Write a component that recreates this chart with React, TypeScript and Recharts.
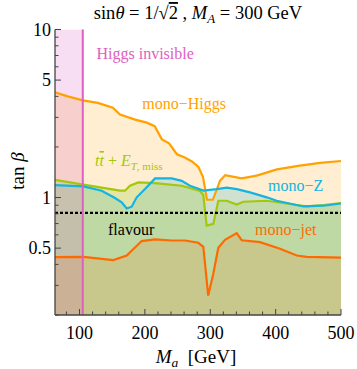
import React from 'react';
import { ComposedChart, Area, Line, XAxis, YAxis, ReferenceLine } from 'recharts';

// ---- data (M_a in GeV, tan beta) ----
const monoHiggsMa = [62.5, 82, 105, 128, 151, 162, 185, 203, 215, 226, 237, 249, 261, 272, 282, 289, 295, 304, 310, 315, 323, 348, 371, 402, 437, 468, 500];
const monoHiggsTanb = [4.23, 4.0, 3.79, 3.66, 3.42, 3.12, 2.91, 2.79, 2.66, 2.22, 2.1, 1.81, 1.73, 1.64, 1.52, 1.32, 0.97, 0.97, 1.12, 1.26, 1.36, 1.3, 1.35, 1.47, 1.55, 1.61, 1.65];

const ttbarMa = [62.5, 105.8, 161.9, 169.6, 177.2, 189.9, 215.5, 256.3, 284.3, 289.3, 294.5, 304.7, 312.3, 325.2, 340.5, 350.6, 386.4, 422, 447.5, 472.9, 500];
const ttbarTanb = [1.274, 1.194, 1.1, 1.098, 1.175, 1.23, 1.218, 1.175, 1.093, 1.035, 0.681, 0.697, 0.957, 0.957, 0.909, 0.944, 0.957, 0.915, 0.885, 0.903, 0.928];

const monoZMa = [62.5, 105.8, 133.9, 154.3, 164.5, 172.2, 179.8, 187.5, 200.2, 215.5, 241, 256.3, 269, 289.4, 309.9, 325.2, 340.5, 360.8, 386.4, 401.7, 442.4, 473, 500];
const monoZTanb = [1.186, 1.165, 1.098, 0.993, 0.937, 0.861, 0.882, 1.003, 1.123, 1.299, 1.299, 1.257, 1.175, 1.1, 1.123, 1.146, 1.123, 1.073, 1.003, 0.957, 0.885, 0.894, 0.922];

const monoJetMa = [62.5, 105.8, 151.7, 172.2, 195.1, 215.5, 241, 261.4, 281.7, 289.4, 296.9, 304.7, 312.3, 322.6, 340.5, 348.1, 376.1, 406.7, 432.3, 447.5, 500];
const monoJetTanb = [0.442, 0.443, 0.424, 0.452, 0.551, 0.563, 0.555, 0.555, 0.538, 0.509, 0.261, 0.353, 0.503, 0.56, 0.614, 0.557, 0.543, 0.496, 0.452, 0.443, 0.439];

const flavourTanb = 0.81;
const higgsInvMa = [62.5, 105];
const higgsInvTanb = [10, 10];

const xDomain = [62.5, 500];
const yDomain = [0.2, 10];
const xTicks = [80, 100, 120, 140, 160, 180, 200, 220, 240, 260, 280, 300, 320, 340, 360, 380, 400, 420, 440, 460, 480, 500];
const xTickLabels = [100, 200, 300, 400, 500];
const yTicks = [0.2, 0.3, 0.4, 0.5, 0.6, 0.7, 0.8, 0.9, 1, 2, 3, 4, 5, 6, 7, 8, 9, 10];
const yTickLabels = [0.5, 1, 5, 10];

// ---- styles ----
const FONT = '"Liberation Serif", "Times New Roman", serif';
const FRAME = '#444';
const C_MH = '#ffa200';
const C_TT = '#a3c70a';
const C_MZ = '#14b4e1';
const C_MJ = '#ff6a00';
const C_HI = '#e060c0';

const toXY = (xs: number[], ys: number[]) => xs.map((x, i) => ({ x, y: ys[i] }));
const monoHiggs = toXY(monoHiggsMa, monoHiggsTanb);
const ttbar = toXY(ttbarMa, ttbarTanb);
const monoZ = toXY(monoZMa, monoZTanb);
const monoJet = toXY(monoJetMa, monoJetTanb);
const higgsInv = toXY(higgsInvMa, higgsInvTanb);
const flavour = toXY(xDomain, [flavourTanb, flavourTanb]);

const near = (a: number, list: number[]) => list.some((v) => Math.abs(v - a) < 1e-9);
const txt = { fontFamily: FONT };

const BottomTick = (p: any) => {
  const { x, y, payload } = p;
  const major = near(payload.value, xTickLabels);
  return (
    <g>
      <line x1={x} x2={x} y1={y} y2={y - (major ? 6 : 3.5)} stroke={FRAME} strokeWidth={1} />
      {major && (
        <text x={x} y={y + 24} textAnchor="middle" fontSize={18} fontFamily={FONT} style={txt} fill="#000">
          {payload.value}
        </text>
      )}
    </g>
  );
};
const TopTick = (p: any) => {
  const { x, y, payload } = p;
  const major = near(payload.value, xTickLabels);
  return <line x1={x} x2={x} y1={y} y2={y + (major ? 6 : 3.5)} stroke={FRAME} strokeWidth={1} />;
};
const LeftTick = (p: any) => {
  const { x, y, payload } = p;
  const major = near(payload.value, yTickLabels);
  return (
    <g>
      <line x1={x} x2={x + (major ? 6 : 3.5)} y1={y} y2={y} stroke={FRAME} strokeWidth={1} />
      {major && (
        <text x={x - 4} y={y} dy="0.34em" textAnchor="end" fontSize={18} fontFamily={FONT} style={txt} fill="#000">
          {payload.value}
        </text>
      )}
    </g>
  );
};
const RightTick = (p: any) => {
  const { x, y, payload } = p;
  const major = near(payload.value, yTickLabels);
  return <line x1={x} x2={x - (major ? 6 : 3.5)} y1={y} y2={y} stroke={FRAME} strokeWidth={1} />;
};

export default function App() {
  return (
    <div style={{ position: 'absolute', left: 0, top: 0, width: 357, height: 369, background: '#fff' }}>
      <ComposedChart width={357} height={369} margin={{ top: 29.5, right: 16, bottom: 0, left: 0 }}>
        <XAxis
          xAxisId="b"
          dataKey="x"
          type="number"
          scale="linear"
          domain={xDomain}
          allowDataOverflow
          ticks={xTicks}
          interval={0}
          tickSize={0}
          tickMargin={0}
          tickLine={false}
          tick={<BottomTick />}
          axisLine={{ stroke: FRAME, strokeWidth: 1.3 }}
          height={54}
          orientation="bottom"
        />
        <XAxis
          xAxisId="t"
          dataKey="x"
          type="number"
          scale="linear"
          domain={xDomain}
          allowDataOverflow
          ticks={xTicks}
          interval={0}
          tickSize={0}
          tickMargin={0}
          tickLine={false}
          tick={<TopTick />}
          axisLine={{ stroke: FRAME, strokeWidth: 1.3 }}
          height={0}
          orientation="top"
        />
        <YAxis
          yAxisId="l"
          type="number"
          scale="log"
          domain={yDomain}
          allowDataOverflow
          ticks={yTicks}
          interval={0}
          tickSize={0}
          tickMargin={0}
          tickLine={false}
          tick={<LeftTick />}
          axisLine={{ stroke: FRAME, strokeWidth: 1.3 }}
          width={55}
          orientation="left"
        />
        <YAxis
          yAxisId="r"
          type="number"
          scale="log"
          domain={yDomain}
          allowDataOverflow
          ticks={yTicks}
          interval={0}
          tickSize={0}
          tickMargin={0}
          tickLine={false}
          tick={<RightTick />}
          axisLine={{ stroke: FRAME, strokeWidth: 1.3 }}
          width={0}
          orientation="right"
        />

        <Area xAxisId="b" yAxisId="l" data={monoHiggs} dataKey="y" type="linear" stroke="none" fill={C_MH} fillOpacity={0.18} isAnimationActive={false} />
        <Area xAxisId="b" yAxisId="l" data={monoZ} dataKey="y" type="linear" stroke="none" fill="#00a8d0" fillOpacity={0.18} isAnimationActive={false} />
        <Area xAxisId="b" yAxisId="l" data={ttbar} dataKey="y" type="linear" stroke="none" fill="#9acd32" fillOpacity={0.25} isAnimationActive={false} />
        <Area xAxisId="b" yAxisId="l" data={flavour} dataKey="y" type="linear" stroke="none" fill="#8cc060" fillOpacity={0.06} isAnimationActive={false} />
        <Area xAxisId="b" yAxisId="l" data={monoJet} dataKey="y" type="linear" stroke="none" fill="#ff6400" fillOpacity={0.15} isAnimationActive={false} />
        <Area xAxisId="b" yAxisId="l" data={higgsInv} dataKey="y" type="linear" stroke="none" fill="#d75abe" fillOpacity={0.2} isAnimationActive={false} />

        <Line xAxisId="b" yAxisId="l" data={monoHiggs} dataKey="y" type="linear" stroke={C_MH} strokeWidth={2.2} dot={false} isAnimationActive={false} />
        <Line xAxisId="b" yAxisId="l" data={ttbar} dataKey="y" type="linear" stroke={C_TT} strokeWidth={2.2} dot={false} isAnimationActive={false} />
        <Line xAxisId="b" yAxisId="l" data={monoZ} dataKey="y" type="linear" stroke={C_MZ} strokeWidth={2.2} dot={false} isAnimationActive={false} />
        <Line xAxisId="b" yAxisId="l" data={monoJet} dataKey="y" type="linear" stroke={C_MJ} strokeWidth={2.2} dot={false} isAnimationActive={false} />
        <Line xAxisId="b" yAxisId="l" data={flavour} dataKey="y" type="linear" stroke="#000" strokeWidth={2.4} strokeDasharray="3 2" dot={false} isAnimationActive={false} />
        <ReferenceLine xAxisId="b" yAxisId="l" x={higgsInvMa[1]} stroke={C_HI} strokeWidth={2} />
      </ComposedChart>

      <svg width={357} height={369} fontFamily={FONT} style={{ position: 'absolute', left: 0, top: 0, pointerEvents: 'none', fontFamily: FONT }}>
        <text x={198} y={19} textAnchor="middle" fontSize={18.5} fill="#000" style={{ whiteSpace: 'pre' }}>
          {'sin'}
          <tspan fontStyle="italic">θ</tspan>
          {' = 1/√'}
          <tspan style={{ textDecoration: 'overline' }}>2</tspan>
          {' , '}
          <tspan fontStyle="italic">M</tspan>
          <tspan fontStyle="italic" fontSize={13} dy={4}>A</tspan>
          <tspan dy={-4}>{' = 300 GeV'}</tspan>
        </text>
        <text x={196} y={363} textAnchor="middle" fontSize={19} fill="#000" style={{ whiteSpace: 'pre' }}>
          <tspan fontStyle="italic">M</tspan>
          <tspan fontStyle="italic" fontSize={13.5} dy={4}>a</tspan>
          <tspan dy={-4}>{'  [GeV]'}</tspan>
        </text>
        <text transform="translate(24,171) rotate(-90)" textAnchor="middle" fontSize={19} fill="#000" style={{ whiteSpace: 'pre' }}>
          {'tan '}
          <tspan fontStyle="italic">β</tspan>
        </text>

        <text x={96.5} y={58.5} fontSize={16} fill={C_HI}>Higgs invisible</text>
        <text x={142.3} y={108.5} fontSize={16} fill={C_MH}>mono−Higgs</text>
        <text x={95} y={166} fontSize={16} fill={C_TT} style={{ whiteSpace: 'pre' }}>
          <tspan fontStyle="italic">t</tspan>
          <tspan fontStyle="italic" style={{ textDecoration: 'overline' }}>t</tspan>
          {' + '}
          <tspan fontStyle="italic">E</tspan>
          <tspan fontStyle="italic" fontSize={11} dy={3.5}>T</tspan>
          <tspan fontSize={11}>{', miss'}</tspan>
        </text>
        <text x={268} y={191} fontSize={16} fill={C_MZ}>mono−Z</text>
        <text x={108} y={235} fontSize={16} fill="#000">flavour</text>
        <text x={255} y={235} fontSize={16} fill={C_MJ}>mono−jet</text>
      </svg>
    </div>
  );
}
